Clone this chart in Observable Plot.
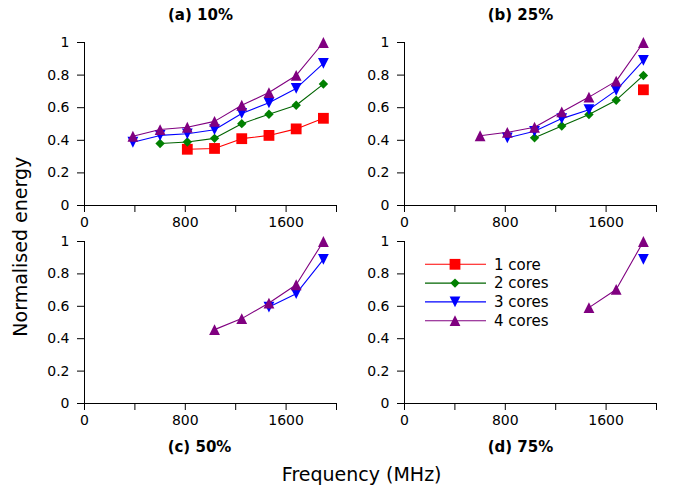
<!DOCTYPE html>
<html>
<head>
<meta charset="utf-8">
<script src="https://cdn.jsdelivr.net/npm/d3@7"></script>
<script src="https://cdn.jsdelivr.net/npm/@observablehq/plot@0.6"></script>
<style>
  html, body { margin: 0; padding: 0; background: #fff; }
  #wrap { position: relative; width: 675px; height: 487px; overflow: hidden; font-family: "DejaVu Sans", sans-serif; }
  #wrap > div.panel { position: absolute; }
  #overlay { position: absolute; left: 0; top: 0; pointer-events: none; }
</style>
</head>
<body>
<div id="wrap"></div>
<script>
// ---------------- data ----------------
const freqs = [384, 600, 816, 1032, 1248, 1464, 1680, 1896];
const seriesNames = ["1 core", "2 cores", "3 cores", "4 cores"];
const panelTitles = ["(a) 10%", "(b) 25%", "(c) 50%", "(d) 75%"];
const xTicks = [0, 400, 800, 1200, 1600, 2000];
const xTickLabels = ["0", "", "800", "", "1600", ""];
const yTicks = [0, 0.2, 0.4, 0.6, 0.8, 1];
const yTickLabels = ["0", "0.2", "0.4", "0.6", "0.8", "1"];
const axisLabelX = "Frequency (MHz)";
const axisLabelY = "Normalised energy";

// (a) 10%
const u10_core1 = [null, null, 0.345, 0.350, 0.410, 0.430, 0.470, 0.535];
const u10_core2 = [null, 0.380, 0.390, 0.412, 0.502, 0.560, 0.615, 0.745];
const u10_core3 = [0.388, 0.430, 0.440, 0.465, 0.565, 0.630, 0.718, 0.872];
const u10_core4 = [0.425, 0.466, 0.480, 0.516, 0.615, 0.693, 0.798, 1.000];
// (b) 25%
const u25_core1 = [null, null, null, null, null, null, null, 0.710];
const u25_core2 = [null, null, null, 0.415, 0.488, 0.558, 0.646, 0.798];
const u25_core3 = [null, null, 0.415, 0.455, 0.533, 0.588, 0.706, 0.890];
const u25_core4 = [null, 0.428, 0.449, 0.480, 0.574, 0.665, 0.763, 1.000];
// (c) 50%
const u50_core1 = [null, null, null, null, null, null, null, null];
const u50_core2 = [null, null, null, null, null, null, null, null];
const u50_core3 = [null, null, null, null, null, 0.595, 0.678, 0.890];
const u50_core4 = [null, null, null, 0.456, 0.524, 0.620, 0.733, 1.000];
// (d) 75%
const u75_core1 = [null, null, null, null, null, null, null, null];
const u75_core2 = [null, null, null, null, null, null, null, null];
const u75_core3 = [null, null, null, null, null, null, null, 0.890];
const u75_core4 = [null, null, null, null, null, 0.592, 0.704, 1.000];

const panelSeries = [
  [u10_core1, u10_core2, u10_core3, u10_core4],
  [u25_core1, u25_core2, u25_core3, u25_core4],
  [u50_core1, u50_core2, u50_core3, u50_core4],
  [u75_core1, u75_core2, u75_core3, u75_core4]
];

// ---------------- styles ----------------
const markerColors = ["#ff0000", "#008000", "#0000ff", "#800080"];
const lineColors = ["#ff0000", "#006400", "#0000ff", "#800080"];
const markerR = [5.4, 4.7, 5.4, 5.4];

const half = size => Math.sqrt(size / Math.PI);
const symSquare = { draw(c, size) { const r = half(size); c.moveTo(-r, -r); c.lineTo(r, -r); c.lineTo(r, r); c.lineTo(-r, r); c.closePath(); } };
const symDiamond = { draw(c, size) { const r = half(size); c.moveTo(0, -r); c.lineTo(r, 0); c.lineTo(0, r); c.lineTo(-r, 0); c.closePath(); } };
const symTriDown = { draw(c, size) { const r = half(size); c.moveTo(0, r); c.lineTo(r, -r); c.lineTo(-r, -r); c.closePath(); } };
const symTriUp = { draw(c, size) { const r = half(size); c.moveTo(0, -r); c.lineTo(r, r); c.lineTo(-r, r); c.closePath(); } };
const symbols = [symSquare, symDiamond, symTriDown, symTriUp];

// layout (pixels)
const layout = [
  { left: 0,   top: 30,  height: 205, tx: 200.5, ty: 19.5 },
  { left: 320, top: 30,  height: 205, tx: 520.5, ty: 19.5 },
  { left: 0,   top: 229, height: 204, tx: 199.5, ty: 451.5 },
  { left: 320, top: 229, height: 204, tx: 520.5, ty: 451.5 }
];

const wrap = document.getElementById("wrap");

panelSeries.forEach((ser, p) => {
  const marks = [
    Plot.ruleX([0], { stroke: "#000", strokeWidth: 1 }),
    Plot.ruleY([0], { stroke: "#000", strokeWidth: 1 })
  ];
  ser.forEach((vals, s) => {
    const rows = freqs.map((f, i) => ({ freq: f, energy: vals[i], series: seriesNames[s] }))
      .filter(d => d.energy != null);
    if (!rows.length) return;
    marks.push(Plot.line(rows, { x: "freq", y: "energy", stroke: lineColors[s], strokeWidth: 1.1 }));
    marks.push(Plot.dot(rows, { x: "freq", y: "energy", symbol: symbols[s], r: markerR[s], fill: markerColors[s], stroke: "none" }));
  });
  const L = layout[p];
  const chart = Plot.plot({
    width: 346,
    height: L.height,
    marginLeft: 84,
    marginRight: 10,
    marginTop: 12,
    marginBottom: L.height - 12 - (L.height === 205 ? 163 : 162),
    style: { fontFamily: "DejaVu Sans", fontSize: "14px", background: "transparent", overflow: "visible", color: "#000" },
    x: { domain: [0, 2000], ticks: xTicks, tickFormat: d => xTickLabels[xTicks.indexOf(d)], tickSize: 7, tickPadding: 5, label: null },
    y: { domain: [0, 1], ticks: yTicks, tickFormat: d => yTickLabels[yTicks.findIndex(t => Math.abs(t - d) < 1e-9)], tickSize: 7, tickPadding: 8, label: null },
    marks
  });
  const div = document.createElement("div");
  div.className = "panel";
  div.style.left = L.left + "px";
  div.style.top = L.top + "px";
  div.appendChild(chart);
  wrap.appendChild(div);
});

// ---------------- overlay: titles, axis labels, legend ----------------
const svg = d3.select(wrap).append("svg").attr("id", "overlay")
  .attr("width", 675).attr("height", 487)
  .style("font-family", "'DejaVu Sans', sans-serif");

panelTitles.forEach((t, p) => {
  svg.append("text").attr("x", layout[p].tx).attr("y", layout[p].ty)
    .attr("text-anchor", "middle").attr("font-weight", "bold").attr("font-size", 15)
    .attr("fill", "#000").text(t);
});

svg.append("text").attr("x", 361.7).attr("y", 481).attr("text-anchor", "middle")
  .attr("font-size", 19).attr("fill", "#000").text(axisLabelX);
svg.append("text").attr("transform", "translate(26.5,246.7) rotate(-90)").attr("text-anchor", "middle")
  .attr("font-size", 19).attr("fill", "#000").text(axisLabelY);

// legend
const legX0 = 425, legX1 = 486, legM = 455, legT = 494, legY0 = 264.3, legDY = 18.8;
seriesNames.forEach((name, s) => {
  const y = legY0 + s * legDY;
  svg.append("line").attr("x1", legX0).attr("x2", legX1).attr("y1", y).attr("y2", y)
    .attr("stroke", lineColors[s]).attr("stroke-width", 1.1);
  const path = d3.path();
  symbols[s].draw(path, Math.PI * markerR[s] * markerR[s]);
  svg.append("path").attr("d", path.toString()).attr("transform", `translate(${legM},${y})`)
    .attr("fill", markerColors[s]);
  svg.append("text").attr("x", legT).attr("y", y).attr("dy", "0.35em")
    .attr("font-size", 15).attr("fill", "#000").text(name);
});
</script>
</body>
</html>
